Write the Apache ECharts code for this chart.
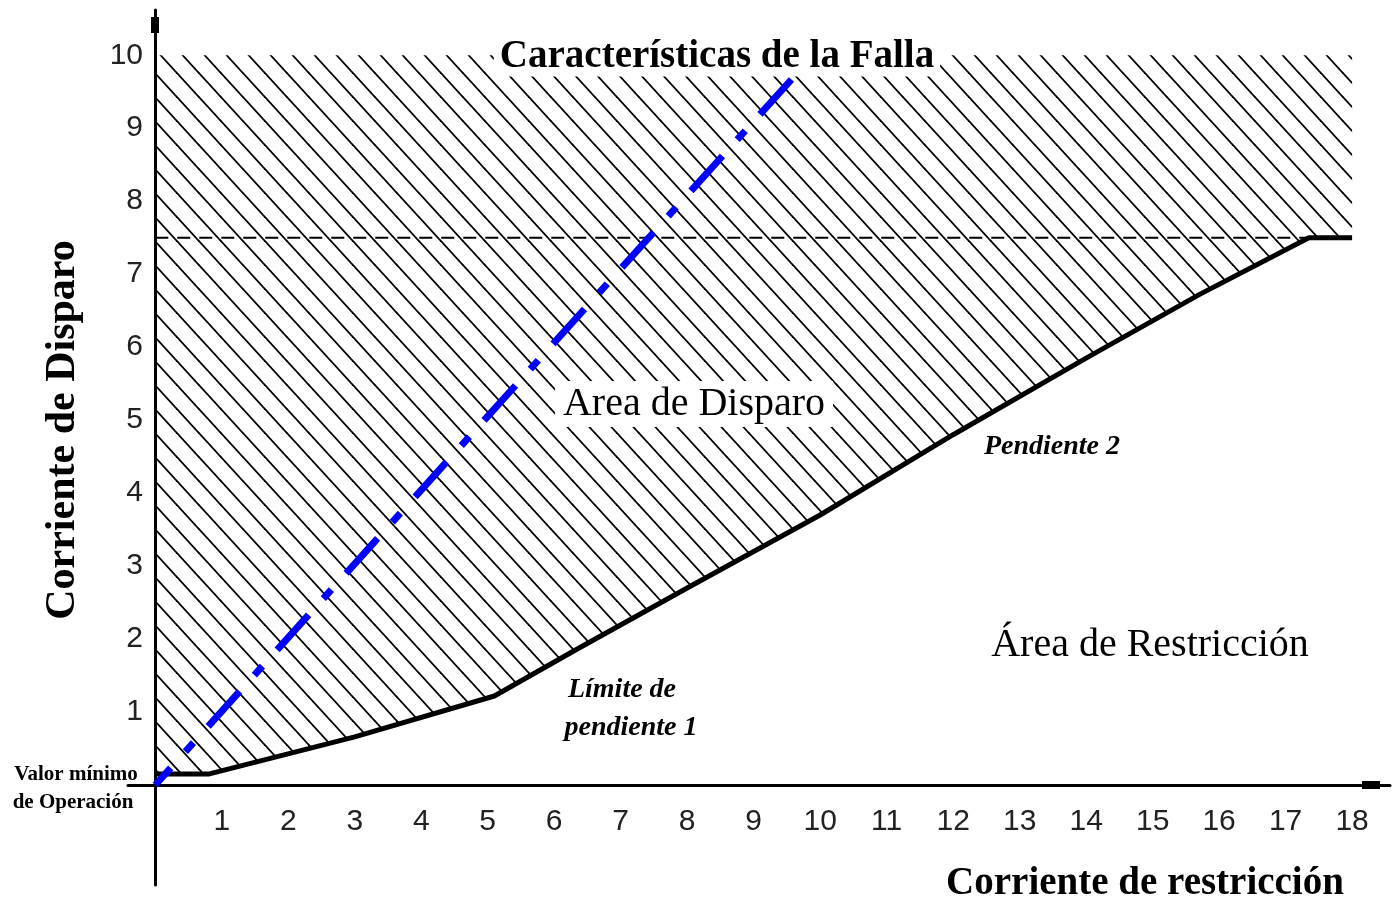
<!DOCTYPE html>
<html><head><meta charset="utf-8">
<script src="https://cdn.jsdelivr.net/npm/echarts@6/dist/echarts.min.js"></script>
<style>html,body{margin:0;padding:0;background:#fff}#c{width:1393px;height:905px}</style>
</head><body><div id="c"></div>
<script>
// ---- data ----
const xTickLabels = [1,2,3,4,5,6,7,8,9,10,11,12,13,14,15,16,17,18];
const yTickLabels = [1,2,3,4,5,6,7,8,9,10];
// operating characteristic (restraint current -> trip current)
const curveX = [0, 0.8, 3, 5.1, 6.3, 8, 10, 12, 14, 15.7, 17.35, 18];
const curveY = [0.15, 0.15, 0.66, 1.22, 1.84, 2.7, 3.7, 4.8, 5.85, 6.72, 7.5, 7.5];
const tripTop = 10;                 // upper limit of the trip area
const dashedX = [0, 17.35];
const dashedY = [7.5, 7.5];
const faultX = [0, 9.6];
const faultY = [0, 9.7];

const zip = (a, b) => a.map((v, i) => [v, b[i]]);

function makeHatch() {
  const W = 22, H = 24;
  const c = document.createElement('canvas');
  c.width = W; c.height = H;
  const g = c.getContext('2d');
  g.strokeStyle = '#000';
  g.lineWidth = 1.8;
  for (let k = -2; k <= 2; k++) {
    g.beginPath();
    g.moveTo(k * W - W, -H);
    g.lineTo(k * W + 2 * W, 2 * H);
    g.stroke();
  }
  return c;
}

const chart = echarts.init(document.getElementById('c'));
const serif = '"Liberation Serif", "Times New Roman", serif';
const txt = (text, x, y, font, extra) => ({
  type: 'text', x: x, y: y, z: 100,
  style: Object.assign({ text: text, font: font, fill: '#000', textAlign: 'center', textVerticalAlign: 'middle' }, extra || {})
});

chart.setOption({
  animation: false,
  backgroundColor: '#fff',
  grid: { left: 128, right: 3, top: 10, bottom: 20, containLabel: false, outerBoundsMode: 'none' },
  xAxis: {
    type: 'value', min: -0.41, max: 18.57, offset: -100,
    splitLine: { show: false },
    axisTick: { show: false },
    axisLine: { onZero: false, lineStyle: { color: '#000', width: 3 },
      symbol: ['none', 'rect'], symbolSize: [8, 18], symbolOffset: [0, -19] },
    axisLabel: { customValues: xTickLabels, margin: 22, color: '#222',
      fontFamily: '"Liberation Sans", Arial, sans-serif', fontSize: 30 }
  },
  yAxis: {
    type: 'value', min: -1.37, max: 10.62, offset: -27,
    splitLine: { show: false },
    axisTick: { show: false },
    axisLine: { onZero: false, lineStyle: { color: '#000', width: 3 },
      symbol: ['none', 'rect'], symbolSize: [8, 16], symbolOffset: [0, -15] },
    axisLabel: { customValues: yTickLabels, margin: 12, color: '#222',
      fontFamily: '"Liberation Sans", Arial, sans-serif', fontSize: 30 }
  },
  series: [
    { type: 'line', data: zip(curveX, curveY), symbol: 'none', silent: true, z: 1,
      lineStyle: { width: 0 },
      areaStyle: { origin: tripTop, opacity: 1, color: { image: makeHatch(), repeat: 'repeat' } } },
    { type: 'line', data: zip(dashedX, dashedY), symbol: 'none', silent: true, z: 2,
      lineStyle: { color: '#000', width: 2, type: [13, 9] } },
    { type: 'line', data: zip(curveX, curveY), symbol: 'none', silent: true, z: 3,
      lineStyle: { color: '#000', width: 5 } },
    { type: 'line', data: zip(faultX, faultY), symbol: 'none', silent: true, z: 4,
      lineStyle: { color: '#0000ff', width: 7, type: [47, 22, 12, 22], dashOffset: 24 } }
  ],
  graphic: [
    txt('Características de la Falla', 717, 57, 'bold 39px ' + serif, { backgroundColor: '#fff', padding: [0, 6] }),
    txt('Area de Disparo', 694, 404, '40px ' + serif, { backgroundColor: '#fff', padding: [3, 8] }),
    txt('Área de Restricción', 1150, 645, '40px ' + serif),
    txt('Límite de', 622, 690, 'italic bold 28px ' + serif),
    txt('pendiente 1', 631, 728, 'italic bold 28px ' + serif),
    txt('Pendiente 2', 1052, 447, 'italic bold 28px ' + serif),
    txt('Valor mínimo', 76, 775, 'bold 21px ' + serif),
    txt('de Operación', 73, 803, 'bold 21px ' + serif),
    txt('Corriente de restricción', 1145, 884, 'bold 39px ' + serif),
    Object.assign(txt('Corriente de Disparo', 63, 430, 'bold 42px ' + serif), { rotation: Math.PI / 2 })
  ]
});
</script>
</body></html>
